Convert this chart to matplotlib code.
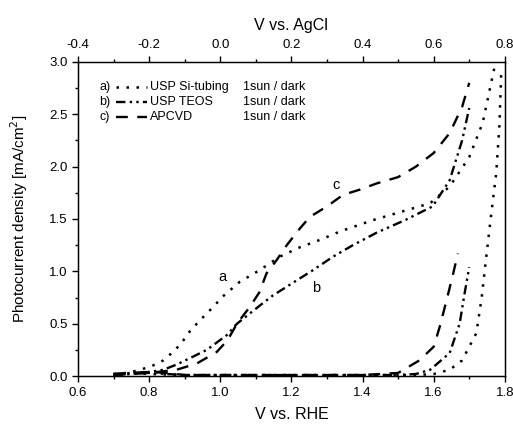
import matplotlib
matplotlib.use("Agg")
import matplotlib.pyplot as plt
from matplotlib.ticker import MultipleLocator, FixedLocator
import numpy as np

plt.rcParams['font.family'] = ['Liberation Sans', 'DejaVu Sans']

# ---- data (V vs. RHE, mA/cm^2) ----
a_light_v = [0.70, 0.75, 0.775, 0.81, 0.84, 0.867, 0.89, 0.91, 0.934, 0.951, 0.98, 1.007, 1.055, 1.11,
             1.167, 1.224, 1.28, 1.336, 1.43, 1.50, 1.59, 1.645, 1.70, 1.738, 1.771]
a_light_i = [0.01, 0.04, 0.06, 0.10, 0.15, 0.23, 0.31, 0.41, 0.50, 0.56, 0.66, 0.76, 0.90, 1.01,
             1.14, 1.23, 1.30, 1.38, 1.49, 1.56, 1.65, 1.81, 2.09, 2.42, 2.95]
a_dark_v = [0.70, 0.75, 0.80, 0.90, 1.0, 1.2, 1.4, 1.55, 1.60, 1.645, 1.68, 1.70, 1.72, 1.735, 1.748,
            1.762, 1.776, 1.785, 1.79]
a_dark_i = [0.02, 0.03, 0.02, 0.01, 0.01, 0.01, 0.01, 0.01, 0.02, 0.06, 0.15, 0.28, 0.41, 0.75, 1.14,
            1.55, 1.94, 2.40, 2.90]

b_light_v = [0.70, 0.75, 0.80, 0.84, 0.877, 0.914, 0.962, 1.018, 1.047, 1.11, 1.148, 1.204, 1.26,
             1.317, 1.373, 1.44, 1.52, 1.597, 1.645, 1.68, 1.70]
b_light_i = [0.01, 0.02, 0.04, 0.06, 0.11, 0.17, 0.25, 0.39, 0.50, 0.67, 0.77, 0.89, 1.01,
             1.14, 1.25, 1.37, 1.49, 1.62, 1.87, 2.25, 2.56]
b_dark_v = [0.70, 0.75, 0.80, 0.90, 1.0, 1.2, 1.4, 1.5, 1.55, 1.59, 1.645, 1.673, 1.687, 1.70]
b_dark_i = [0.02, 0.03, 0.03, 0.01, 0.01, 0.01, 0.01, 0.01, 0.02, 0.06, 0.22, 0.50, 0.79, 1.04]

c_light_v = [0.70, 0.75, 0.80, 0.877, 0.934, 0.99, 1.02, 1.047, 1.083, 1.11, 1.13, 1.159, 1.187,
             1.224, 1.252, 1.30, 1.345, 1.392, 1.44, 1.50, 1.55, 1.60, 1.645, 1.68, 1.70]
c_light_i = [0.01, 0.02, 0.03, 0.06, 0.12, 0.23, 0.34, 0.50, 0.66, 0.80, 0.98, 1.11, 1.25,
             1.41, 1.52, 1.62, 1.73, 1.78, 1.84, 1.90, 2.00, 2.13, 2.32, 2.57, 2.80]
c_dark_v = [0.70, 0.75, 0.80, 0.85, 0.90, 1.0, 1.2, 1.4, 1.5, 1.56, 1.60, 1.617, 1.636, 1.655, 1.668]
c_dark_i = [0.02, 0.03, 0.04, 0.03, 0.01, 0.01, 0.01, 0.01, 0.03, 0.15, 0.28, 0.47, 0.72, 0.98, 1.17]

series_tags = ["a)", "b)", "c)"]
series_names = ["USP Si-tubing", "USP TEOS", "APCVD"]
cond_label = "1sun / dark"
curve_labels = ["a", "b", "c"]
label_pos = [(1.005, 0.95), (1.27, 0.84), (1.325, 1.82)]

x_ticks = [0.6, 0.8, 1.0, 1.2, 1.4, 1.6, 1.8]
y_ticks = [0.0, 0.5, 1.0, 1.5, 2.0, 2.5, 3.0]
top_ticks = [-0.4, -0.2, 0.0, 0.2, 0.4, 0.6, 0.8]

styles = [dict(ls=(0, (1, 3.0)), lw=1.8),
          dict(ls=(0, (4, 1.8, 1, 1.8, 1, 1.8)), lw=1.7),
          dict(ls=(0, (5, 4)), lw=1.7)]

fig = plt.figure(figsize=(5.13, 4.24), dpi=100)
ax = fig.add_axes([0.152, 0.113, 0.832, 0.741])

data = [(a_light_v, a_light_i, a_dark_v, a_dark_i),
        (b_light_v, b_light_i, b_dark_v, b_dark_i),
        (c_light_v, c_light_i, c_dark_v, c_dark_i)]
for (lv, li, dv, di), st in zip(data, styles):
    ax.plot(lv, li, color='black', **st)
    ax.plot(dv, di, color='black', **st)

for lab, (x, y) in zip(curve_labels, label_pos):
    ax.text(x, y, lab, fontsize=10.5, ha='center', va='center')

ax.set_xlim(0.6, 1.8)
ax.set_ylim(0, 3.0)
ax.xaxis.set_major_locator(FixedLocator(x_ticks))
ax.xaxis.set_minor_locator(MultipleLocator(0.1))
ax.yaxis.set_major_locator(FixedLocator(y_ticks))
ax.yaxis.set_minor_locator(MultipleLocator(0.25))
ax.xaxis.set_major_formatter(plt.FuncFormatter(lambda v, p: f"{v:.1f}"))
ax.yaxis.set_major_formatter(plt.FuncFormatter(lambda v, p: f"{v:.1f}"))
ax.tick_params(which='major', direction='out', length=4, width=1, labelsize=9.5)
ax.tick_params(which='minor', direction='out', length=2.5, width=1)
for s in ax.spines.values():
    s.set_linewidth(1.0)
ax.set_xlabel("V vs. RHE", fontsize=11.5, labelpad=6)
ax.set_ylabel("Photocurrent density [mA/cm$^2$]", fontsize=11, labelpad=14)

# top axis: V vs. AgCl = V(RHE) - 1.0
top = ax.twiny()
top.set_xlim(0.6 - 1.0, 1.8 - 1.0)
top.xaxis.set_major_locator(FixedLocator(top_ticks))
top.xaxis.set_minor_locator(FixedLocator(list(np.round(np.arange(-0.3, 0.8, 0.2), 2))))
top.xaxis.set_major_formatter(plt.FuncFormatter(lambda v, p: f"{v:.1f}"))
top.tick_params(which='major', direction='out', length=4, width=1, labelsize=9.5)
top.tick_params(which='minor', direction='out', length=2.5, width=1)
top.set_xlabel("V vs. AgCl", fontsize=11.5, labelpad=7)

# legend-like block
rows_y = [0.920, 0.873, 0.825]
for tag, name, st, y in zip(series_tags, series_names, styles, rows_y):
    ax.text(0.050, y, tag, transform=ax.transAxes, fontsize=9, va='center')
    ax.plot([0.090, 0.162], [y, y], transform=ax.transAxes, color='black', **st)
    ax.text(0.168, y, name, transform=ax.transAxes, fontsize=9, va='center')
    ax.text(0.386, y, cond_label, transform=ax.transAxes, fontsize=9, va='center')

fig.savefig("out.png", dpi=100)
